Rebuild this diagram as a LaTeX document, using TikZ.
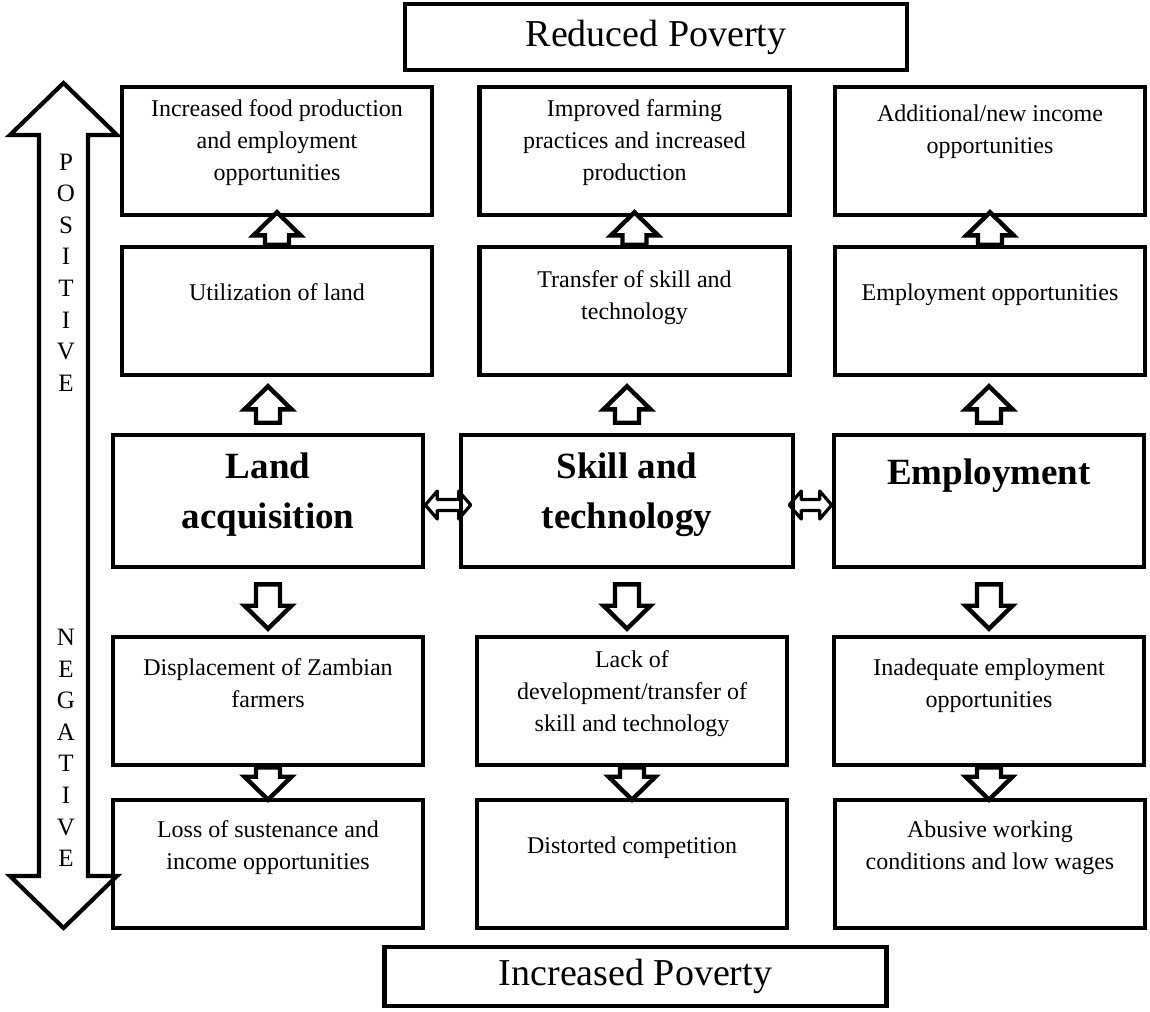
\documentclass[tikz,border=0pt]{standalone}
\usepackage{fontspec}
\setmainfont{Liberation Serif}
\usepackage{tikz}
\usetikzlibrary{calc}
\tikzset{
  infobox/.style={draw, line width=2.3pt, inner sep=0pt, minimum width=155pt, minimum height=64pt, font=\fontsize{12}{16}\selectfont},
  mainbox/.style={infobox, minimum height=66pt, font=\fontsize{18.5}{25}\selectfont\bfseries},
  povbox/.style={draw, line width=2.3pt, inner sep=0pt, minimum width=251pt, font=\fontsize{19}{23}\selectfont},
  blockline/.style={draw, line width=2.2pt, fill=white, line join=miter},
  thinblock/.style={draw, line width=1.6pt, line join=round},
  bigline/.style={draw, line width=2.1pt, line join=miter},
  sidetext/.style={align=center, inner sep=0pt, font=\fontsize{12.5}{15.8}\selectfont}
}
\newcommand{\txtbox}[5]{\node[infobox] (#1) at (#2,#3) {\parbox[c][64pt][t]{150pt}{\centering\vspace*{#4}#5}};}
\newcommand{\keybox}[6]{\node[mainbox, minimum width=#4] (#1) at (#2,#3) {\parbox[c][66pt][t]{150pt}{\centering\vspace*{#5}#6}};}
\newcommand{\blockup}[4]{\draw[blockline] let \p1=(#1.north), \p2=(#2.south) in
  ({\x1-6pt},{\y1+(#3)}) -- ({\x1-6pt},{\y2-(#4)-11.5pt}) -- ({\x1-11.75pt},{\y2-(#4)-11.5pt}) -- (\x1,{\y2-(#4)})
  -- ({\x1+11.75pt},{\y2-(#4)-11.5pt}) -- ({\x1+6pt},{\y2-(#4)-11.5pt}) -- ({\x1+6pt},{\y1+(#3)}) -- cycle;}
\newcommand{\blockdown}[4]{\draw[blockline] let \p1=(#1.south), \p2=(#2.north) in
  ({\x1-6pt},{\y1-(#3)}) -- ({\x1-6pt},{\y2+(#4)+11.5pt}) -- ({\x1-11.75pt},{\y2+(#4)+11.5pt}) -- (\x1,{\y2+(#4)})
  -- ({\x1+11.75pt},{\y2+(#4)+11.5pt}) -- ({\x1+6pt},{\y2+(#4)+11.5pt}) -- ({\x1+6pt},{\y1-(#3)}) -- cycle;}
\newcommand{\blockboth}[4]{\draw[thinblock] let \p1=(#1.east), \p2=(#2.west) in
  ({\x1+(#3)},{\y1-2pt}) -- ({\x1+(#3)+6pt},{\y1+5pt}) -- ({\x1+(#3)+6pt},{\y1+0.75pt})
  -- ({\x2+(#4)-6pt},{\y1+0.75pt}) -- ({\x2+(#4)-6pt},{\y1+5pt}) -- ({\x2+(#4)},{\y1-2pt})
  -- ({\x2+(#4)-6pt},{\y1-9pt}) -- ({\x2+(#4)-6pt},{\y1-4.75pt}) -- ({\x1+(#3)+6pt},{\y1-4.75pt})
  -- ({\x1+(#3)+6pt},{\y1-9pt}) -- cycle;}

\begin{document}
\begin{tikzpicture}[x=1pt,y=1pt]
        \useasboundingbox (0,0) rectangle (575,-505.5);

        % poverty boxes
        \node[povbox, minimum height=33pt] (reduced) at (328,-18.5) {Reduced Poverty};
        \node[povbox, minimum height=29.5pt] (increased) at (317.75,-488.25) {Increased Poverty};

        % row 1
        \txtbox{incfood}{138.5}{-75.5}{6.5pt}{Increased food production\\and employment\\opportunities}
        \txtbox{farmprac}{317.25}{-75.5}{6.5pt}{Improved farming\\practices and increased\\production}
        \txtbox{newincome}{495}{-75.5}{9pt}{Additional/new income\\opportunities}
        % row 2
        \txtbox{landuse}{138.5}{-155.5}{18.5pt}{Utilization of land}
        \txtbox{skilltrans}{317.25}{-155.5}{12pt}{Transfer of skill and\\technology}
        \txtbox{jobopp}{495}{-155.5}{18.5pt}{Employment opportunities}
        % row 3
        \keybox{land}{134}{-250.5}{155pt}{9pt}{Land\\acquisition}
        \keybox{skill}{313.5}{-250.5}{166pt}{9pt}{Skill and\\technology}
        \keybox{employ}{494.5}{-250.5}{155pt}{12pt}{Employment}
        % row 4
        \txtbox{displace}{134}{-350.5}{11pt}{Displacement of Zambian\\farmers}
        \txtbox{lackskill}{316}{-350.5}{7pt}{Lack of\\development/transfer of\\skill and technology}
        \txtbox{fewjobs}{494.5}{-350.5}{11pt}{Inadequate employment\\opportunities}
        % row 5
        \txtbox{losssust}{134}{-432}{10.5pt}{Loss of sustenance and\\income opportunities}
        \txtbox{distort}{316}{-432}{18.5pt}{Distorted competition}
        \txtbox{abuse}{495}{-432}{10.5pt}{Abusive working\\conditions and low wages}

        % arrows up
        \blockup{landuse}{incfood}{0pt}{-2.5pt}
        \blockup{skilltrans}{farmprac}{0pt}{-2.5pt}
        \blockup{jobopp}{newincome}{0pt}{-2.5pt}
        \blockup{land}{landuse}{5pt}{4.5pt}
        \blockup{skill}{skilltrans}{5pt}{4.5pt}
        \blockup{employ}{jobopp}{5pt}{4.5pt}
        % arrows down
        \blockdown{land}{displace}{7.5pt}{3pt}
        \blockdown{skill}{lackskill}{7.5pt}{3pt}
        \blockdown{employ}{fewjobs}{7.5pt}{3pt}
        \blockdown{displace}{losssust}{0pt}{-1pt}
        \blockdown{lackskill}{distort}{0pt}{-1pt}
        \blockdown{fewjobs}{abuse}{0pt}{-1pt}
        % arrows across
        \blockboth{land}{skill}{0pt}{6pt}
        \blockboth{skill}{employ}{-3pt}{0pt}

        % positive / negative scale
        \draw[bigline] (31.75,-41.5) -- (58.5,-67.5) -- (44,-67.5) -- (44,-438) -- (58.5,-438)
            -- (31.75,-464) -- (5,-438) -- (19.5,-438) -- (19.5,-67.5) -- (5,-67.5) -- cycle;
        \node[sidetext] (positive) at (33,-136.25) {P\\O\\S\\I\\T\\I\\V\\E};
        \node[sidetext] (negative) at (33,-374) {N\\E\\G\\A\\T\\I\\V\\E};
\end{tikzpicture}
\end{document}
